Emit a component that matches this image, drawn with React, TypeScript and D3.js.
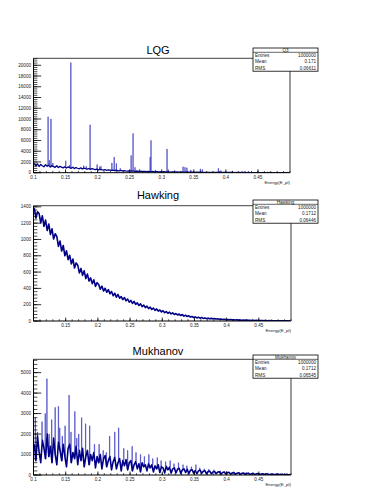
import React from "react";
import * as d3 from "d3";

const BIN_START = 0.1;
const BIN_WIDTH = 0.0025;
const PEAK_WIDTH = 0.0005;
const X_DOMAIN = [0.1, 0.5];

// LQG: continuum (160 bins) + narrow spectral lines
const lqgCounts = [
  1750, 1250, 1650, 1150, 1550, 1300, 1100, 1500, 1180, 1420,
  1050, 1350, 1120, 1000, 1300, 950, 1180, 1030, 900, 1120,
  860, 1080, 940, 820, 1030, 770, 950, 830, 730, 900,
  690, 850, 760, 650, 780, 620, 740, 650, 570, 670,
  540, 640, 560, 490, 580, 455, 540, 475, 415, 490,
  385, 455, 405, 355, 425, 335, 395, 345, 305, 355,
  285, 345, 295, 258, 315, 240, 292, 248, 220, 262,
  210, 250, 215, 186, 225, 172, 208, 182, 158, 188,
  153, 182, 158, 134, 162, 124, 150, 130, 115, 136,
  110, 130, 113, 96, 117, 91, 109, 94, 81, 96,
  78, 94, 81, 69, 84, 65, 78, 67, 57, 69,
  55, 67, 57, 50, 60, 46, 55, 48, 41, 49,
  39, 47, 40, 35, 42, 32, 40, 33, 28, 35,
  27, 34, 28, 25, 30, 23, 28, 24, 20, 24,
  19, 23, 20, 17, 20, 15, 19, 16, 13, 17,
  12, 16, 13, 11, 14, 10, 13, 10, 8, 11,
];
const lqgPeakEnergy = [
  0.1225, 0.1245, 0.127, 0.13, 0.15, 0.156, 0.158, 0.178, 0.182, 0.188,
  0.199, 0.203, 0.205, 0.222, 0.2256, 0.229, 0.235, 0.252, 0.255, 0.258,
  0.265, 0.2817, 0.283, 0.29, 0.308, 0.31, 0.32, 0.333, 0.336, 0.339,
  0.345, 0.36, 0.363, 0.388, 0.392, 0.41, 0.425, 0.435, 0.45, 0.465, 0.48,
];
const lqgPeakCounts = [
  10400, 2300, 10000, 1800, 2200, 1400, 20500, 1300, 1200, 8900,
  1500, 1100, 1200, 1800, 2900, 1700, 800, 3200, 7300, 1000,
  600, 2900, 6000, 500, 4400, 550, 400, 1100, 1000, 900,
  500, 700, 600, 800, 400, 300, 250, 300, 250, 150, 120,
];

const hawkingCounts = [
  1385, 1262, 1340, 1318, 1205, 1290, 1160, 1238, 1110, 1190,
  1062, 1130, 1005, 1070, 1035, 915, 980, 858, 925, 800,
  860, 752, 805, 700, 760, 650, 712, 685, 590, 645,
  560, 615, 520, 575, 490, 528, 458, 505, 425, 470,
  448, 390, 428, 368, 402, 352, 385, 335, 362, 310,
  340, 292, 325, 280, 300, 262, 288, 248, 270, 230,
  252, 215, 240, 204, 222, 190, 210, 176, 195, 165,
  182, 152, 170, 142, 158, 130, 148, 122, 135, 112,
  126, 102, 116, 94, 108, 87, 100, 80, 92, 74,
  85, 67, 79, 60, 71, 55, 63, 49, 56, 43,
  50, 38, 46, 35, 42, 32, 38, 29, 35, 27,
  32, 27, 29, 24, 27, 22, 24, 19, 22, 17,
  19, 16, 18, 14, 16, 12, 14, 11, 13, 10,
  12, 9, 11, 8, 10, 7, 9, 6, 8, 5,
  7, 5, 6, 4, 5, 3, 5, 3, 4, 2,
  3, 2, 3, 2, 2, 1, 2, 1, 1, 1,
];

const mukhanovCounts = [
  1500, 700, 1900, 1100, 600, 1700, 1300, 800, 2000, 900,
  1400, 600, 1800, 1000, 500, 1600, 1200, 700, 1500, 900,
  400, 1300, 1500, 600, 1100, 800, 1400, 500, 1200, 700,
  1300, 400, 900, 1200, 500, 1000, 700, 1100, 350, 900,
  600, 1000, 300, 800, 950, 400, 700, 900, 250, 650,
  850, 300, 600, 800, 200, 700, 450, 750, 250, 600,
  700, 200, 500, 650, 300, 550, 150, 600, 400, 500,
  200, 550, 350, 500, 150, 450, 300, 500, 120, 400,
  350, 100, 420, 250, 380, 90, 300, 350, 100, 280,
  330, 80, 250, 300, 120, 280, 70, 230, 260, 90,
  220, 60, 200, 240, 80, 180, 210, 50, 170, 190,
  50, 150, 170, 60, 140, 160, 40, 120, 150, 50,
  110, 130, 35, 100, 120, 30, 90, 110, 30, 80,
  100, 25, 70, 90, 20, 65, 80, 20, 55, 70,
  15, 50, 65, 15, 45, 55, 12, 40, 50, 10,
  35, 45, 10, 30, 40, 8, 25, 35, 6, 20,
];
const mukhanovPeakEnergy = [
  0.1026, 0.106, 0.113, 0.118, 0.1206, 0.124, 0.128, 0.1334, 0.1385, 0.1405,
  0.1445, 0.1488, 0.155, 0.158, 0.164, 0.167, 0.170, 0.1745, 0.1807, 0.187,
  0.1945, 0.2017, 0.208, 0.213, 0.218, 0.226, 0.232, 0.240, 0.246, 0.253,
  0.259, 0.266, 0.272, 0.279, 0.285, 0.292, 0.298, 0.305, 0.312, 0.318,
  0.325, 0.332, 0.338, 0.345, 0.352, 0.358, 0.365, 0.372, 0.38, 0.39,
  0.4, 0.41, 0.42, 0.43, 0.44, 0.45, 0.46,
];
const mukhanovPeakCounts = [
  2800, 2100, 2600, 3000, 4700, 2000, 2700, 3300, 3350, 2300,
  1900, 2400, 3900, 2100, 3100, 1800, 2000, 2800, 2500, 2400,
  1500, 1500, 1200, 1100, 1900, 2100, 2300, 1300, 1200, 1400,
  1100, 1000, 900, 1000, 800, 850, 700, 650, 700, 550,
  600, 500, 450, 400, 500, 350, 300, 280, 250, 200,
  180, 150, 130, 120, 100, 90, 70,
];

const lqgYTicks = [0, 2000, 4000, 6000, 8000, 10000, 12000, 14000, 16000, 18000, 20000];
const hawkingYTicks = [0, 200, 400, 600, 800, 1000, 1200, 1400];
const mukhanovYTicks = [0, 1000, 2000, 3000, 4000, 5000];
const majorXTicks = [0.1, 0.15, 0.2, 0.25, 0.3, 0.35, 0.4, 0.45];
const lqgXTicks = [0.1, 0.15, 0.2, 0.25, 0.3, 0.35, 0.4, 0.45];
const hawkingXTicks = [0.15, 0.2, 0.25, 0.3, 0.35, 0.4, 0.45];
const mukhanovXTicks = [0.1, 0.15, 0.2, 0.25, 0.3, 0.35, 0.4, 0.45];

const titles = ["LQG", "Hawking", "Mukhanov"];
const statsNames = ["Q3", "Hawking", "Mukhanov"];
const statsEntries = ["1000000", "1000000", "1000000"];
const statsMeans = ["0.171", "0.1712", "0.1712"];
const statsRms = ["0.06611", "0.06446", "0.06545"];
const xTitle = "Energy(E_pl)";

const FONT = "'Liberation Sans', Arial, Helvetica, sans-serif";
const HIST_COLOR = "#000088";
const PEAK_COLOR = "#3a3ac0";

type PanelCfg = {
  counts: number[];
  peakE: number[];
  peakC: number[];
  lineW: number;
  yTicks: number[];
  xTicks: number[];
  yMax: number;
  yMinor: number;
  title: string;
  statsName: string;
  entries: string;
  mean: string;
  rms: string;
  top: number;
  bottom: number;
  right: number;
  titleY: number;
  statTop: number;
};

const LEFT = 33.5;

const panels: PanelCfg[] = [
  {
    counts: lqgCounts, peakE: lqgPeakEnergy, peakC: lqgPeakCounts, lineW: 1.3,
    yTicks: lqgYTicks, xTicks: lqgXTicks, yMax: 21300, yMinor: 400,
    title: titles[0], statsName: statsNames[0], entries: statsEntries[0], mean: statsMeans[0], rms: statsRms[0],
    top: 58.3, bottom: 172.7, right: 290, titleY: 53.5, statTop: 48,
  },
  {
    counts: hawkingCounts, peakE: [], peakC: [], lineW: 1.6,
    yTicks: hawkingYTicks, xTicks: hawkingXTicks, yMax: 1414, yMinor: 40,
    title: titles[1], statsName: statsNames[1], entries: statsEntries[1], mean: statsMeans[1], rms: statsRms[1],
    top: 205.7, bottom: 321, right: 291, titleY: 199, statTop: 200,
  },
  {
    counts: mukhanovCounts, peakE: mukhanovPeakEnergy, peakC: mukhanovPeakCounts, lineW: 1.6,
    yTicks: mukhanovYTicks, xTicks: mukhanovXTicks, yMax: 5650, yMinor: 200,
    title: titles[2], statsName: statsNames[2], entries: statsEntries[2], mean: statsMeans[2], rms: statsRms[2],
    top: 359.3, bottom: 475, right: 291, titleY: 355, statTop: 355,
  },
];

function Panel({ cfg, idx }: { cfg: PanelCfg; idx: number }) {
  const x = d3.scaleLinear().domain(X_DOMAIN).range([LEFT, cfg.right]);
  const y = d3.scaleLinear().domain([0, cfg.yMax]).range([cfg.bottom, cfg.top]);
  const n = cfg.counts.length;
  const pts: [number, number][] = cfg.counts.map((v, i) => [BIN_START + (i + 0.5) * BIN_WIDTH, v]);
  const line = d3
    .line<[number, number]>()
    .x((d) => x(d[0]))
    .y((d) => y(d[1]))
    .curve(d3.curveLinear);
  const baseAt = (e: number) => {
    const i = Math.min(n - 1, Math.max(0, Math.floor((e - BIN_START) / BIN_WIDTH)));
    return cfg.counts[i];
  };
  const peakPath = cfg.peakE
    .map((e, i) => {
      const b = y(baseAt(e));
      const x0 = x(e);
      const x1 = x(e + PEAK_WIDTH);
      return `M${x0},${b}V${y(cfg.peakC[i])}H${x1}V${b}`;
    })
    .join("");
  const clipId = `clip${idx}`;
  const frameW = cfg.right - LEFT;
  const frameH = cfg.bottom - cfg.top;
  const yMajLen = frameW * 0.03;
  const xMajLen = frameH * 0.03;
  const yMinorTicks = d3.range(0, cfg.yMax, cfg.yMinor);
  const xMinorTicks = d3.range(0.1, 0.5001, 0.01);
  const sx0 = 253;
  const sx1 = 318;
  const st = cfg.statTop;
  const rowH = 6.3;
  const titleH = 4.3;
  const sb = st + titleH + rowH * 3;
  const statFs = 4.6;
  return (
    <g>
      <defs>
        <clipPath id={clipId}>
          <rect x={LEFT} y={cfg.top} width={frameW} height={frameH} />
        </clipPath>
      </defs>
      <text x={158} y={cfg.titleY} textAnchor="middle" fontSize={11} fontFamily={FONT} fill="#000">
        {cfg.title}
      </text>
      <g clipPath={`url(#${clipId})`}>
        <path d={peakPath} fill="none" stroke={PEAK_COLOR} strokeWidth={0.9} strokeOpacity={0.75} />
        <path d={line(pts) || ""} fill="none" stroke={HIST_COLOR} strokeWidth={cfg.lineW} strokeLinejoin="round" />
      </g>
      {/* frame */}
      <line x1={LEFT} x2={cfg.right} y1={cfg.top} y2={cfg.top} stroke="#666" strokeWidth={1.3} />
      <line x1={cfg.right} x2={cfg.right} y1={cfg.top} y2={cfg.bottom} stroke="#666" strokeWidth={1.3} />
      <line x1={LEFT} x2={LEFT} y1={cfg.top} y2={cfg.bottom} stroke="#000" strokeWidth={1} />
      <line x1={LEFT} x2={cfg.right} y1={cfg.bottom} y2={cfg.bottom} stroke="#000" strokeWidth={1} />
      {/* y ticks */}
      {yMinorTicks.map((t, i) => (
        <line key={`ym${i}`} x1={LEFT} x2={LEFT + yMajLen / 2} y1={y(t)} y2={y(t)} stroke="#000" strokeWidth={0.7} />
      ))}
      {cfg.yTicks.map((t) => (
        <g key={`y${t}`}>
          <line x1={LEFT} x2={LEFT + yMajLen} y1={y(t)} y2={y(t)} stroke="#000" strokeWidth={0.8} />
          <text x={LEFT - 2.5} y={y(t) + 1.6} textAnchor="end" fontSize={4.6} fontFamily={FONT} fill="#222">
            {t}
          </text>
        </g>
      ))}
      {/* x ticks */}
      {xMinorTicks.map((t, i) => (
        <line key={`xm${i}`} x1={x(t)} x2={x(t)} y1={cfg.bottom} y2={cfg.bottom - xMajLen / 2} stroke="#000" strokeWidth={0.7} />
      ))}
      {majorXTicks.map((t) => (
        <line key={`xM${t}`} x1={x(t)} x2={x(t)} y1={cfg.bottom} y2={cfg.bottom - xMajLen} stroke="#000" strokeWidth={0.8} />
      ))}
      {cfg.xTicks.map((t) => (
        <text key={`xl${t}`} x={x(t)} y={cfg.bottom + 6.2} textAnchor="middle" fontSize={4.6} fontFamily={FONT} fill="#222">
          {String(t)}
        </text>
      ))}
      <text x={cfg.right} y={cfg.bottom + 10.8} textAnchor="end" fontSize={4.4} fontFamily={FONT} fill="#222">
        {xTitle}
      </text>
      {/* stats box */}
      <rect x={sx0} y={st} width={sx1 - sx0} height={sb - st} fill="#fff" stroke="#000" strokeWidth={0.8} />
      <line x1={sx0} x2={sx1} y1={st + titleH} y2={st + titleH} stroke="#000" strokeWidth={0.6} />
      <text x={(sx0 + sx1) / 2} y={st + 3.5} textAnchor="middle" fontSize={statFs} fontFamily={FONT} fill="#222">
        {cfg.statsName}
      </text>
      {[
        ["Entries", cfg.entries],
        ["Mean", cfg.mean],
        ["RMS", cfg.rms],
      ].map((r, i) => (
        <g key={r[0]}>
          <text x={sx0 + 2} y={st + titleH + rowH * i + 4.8} fontSize={statFs} fontFamily={FONT} fill="#222">
            {r[0]}
          </text>
          <text x={sx1 - 2} y={st + titleH + rowH * i + 4.8} textAnchor="end" fontSize={statFs} fontFamily={FONT} fill="#222">
            {r[1]}
          </text>
        </g>
      ))}
    </g>
  );
}

export default function App() {
  return (
    <svg
      width={383}
      height={495}
      style={{ position: "absolute", left: 0, top: 0, background: "#fff" }}
    >
      <rect x={0} y={0} width={383} height={495} fill="#fff" />
      {panels.map((p, i) => (
        <Panel key={i} cfg={p} idx={i} />
      ))}
    </svg>
  );
}
